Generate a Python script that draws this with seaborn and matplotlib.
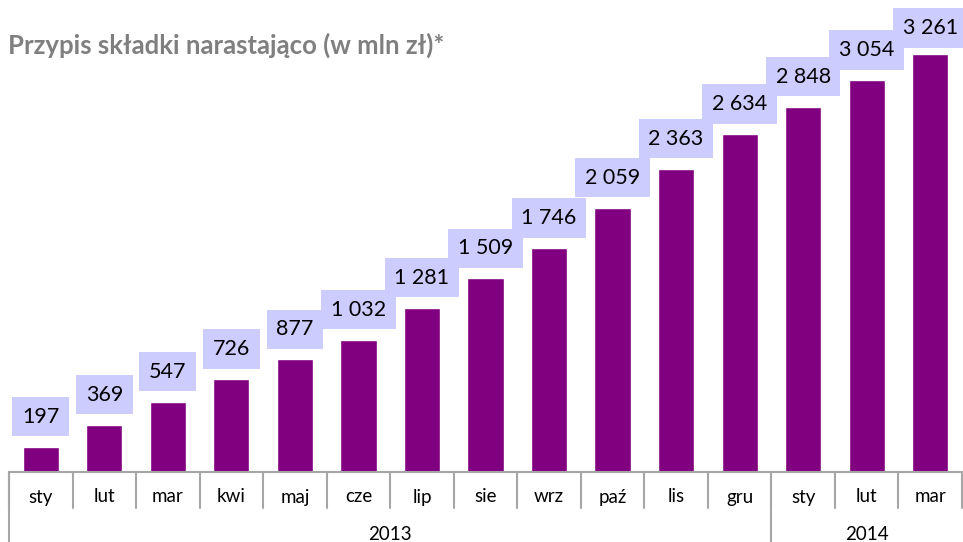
import matplotlib
matplotlib.use("Agg")
import matplotlib.pyplot as plt
import seaborn as sns
import pandas as pd

# ---- Data ----
months = ["sty", "lut", "mar", "kwi", "maj", "cze", "lip", "sie", "wrz",
          "paź", "lis", "gru", "sty", "lut", "mar"]
years = [2013] * 12 + [2014] * 3
values = [197, 369, 547, 726, 877, 1032, 1281, 1509, 1746,
          2059, 2363, 2634, 2848, 3054, 3261]
title = "Przypis składki narastająco (w mln zł)*"

df = pd.DataFrame({"month": months, "year": years, "value": values})
df["key"] = df["year"].astype(str) + "-" + df["month"]

BAR = "#800080"
BOX = "#CCCCFF"
LINE = "#A6A6A6"
YMAX = 3600

sns.set_theme(style="white")
plt.rcParams["font.family"] = ["Lato", "DejaVu Sans"]

fig = plt.figure(figsize=(9.63, 5.42), dpi=100)
ax = fig.add_axes([9 / 963, 70 / 542, 953 / 963, 462 / 542])

sns.barplot(data=df, x="key", y="value", color=BAR, width=0.57,
            saturation=1, ax=ax)

ax.set_xlim(-0.5, len(df) - 0.5)
ax.set_ylim(0, YMAX)
ax.set_xticks([])
ax.set_yticks([])
ax.set_xlabel("")
ax.set_ylabel("")
for s in ax.spines.values():
    s.set_visible(False)

# value labels in boxes (kept inside the plot area, like Excel does)
px = YMAX / 462  # data units per pixel
for i, v in enumerate(df["value"]):
    ty = min(v + 30 * px, YMAX - 18 * px)
    ax.text(i, ty, f"{v:,}".replace(",", " "), ha="center", va="center",
            fontsize=15.5, color="black", clip_on=False,
            bbox=dict(boxstyle="square,pad=0.45", fc=BOX, ec="none"))

# category axis: baseline and separators
tr = ax.get_xaxis_transform()
n = len(df)
ax.plot([-0.5, n - 0.5], [0, 0], transform=tr, color=LINE, lw=1.5,
        clip_on=False)
h_cat = -36 / 462
h_year = -70 / 462
for i in range(n):
    ax.text(i, -25 / 462, df["month"][i], transform=tr, ha="center",
            va="center", fontsize=13.5, color="black")
for b in range(n + 1):
    x = b - 0.5
    ax.plot([x, x], [0, h_cat], transform=tr, color=LINE, lw=1.5,
            clip_on=False)

# year groups
for yr, grp in df.groupby("year"):
    idx = grp.index
    ax.text((idx.min() + idx.max()) / 2, -62 / 462, str(yr), transform=tr,
            ha="center", va="center", fontsize=13.5, color="black")
    x0 = idx.min() - 0.5
    ax.plot([x0, x0], [0, h_year], transform=tr, color=LINE, lw=1.5,
            clip_on=False)

fig.text(8 / 963, 1 - 45 / 542, title, ha="left", va="center",
         fontsize=18.5, fontweight="bold", color="#7F7F7F")

fig.savefig("out.png", dpi=100)
